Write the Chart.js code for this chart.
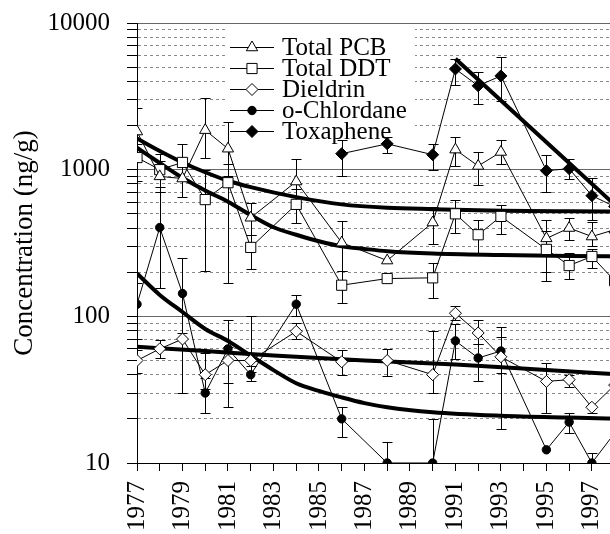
<!DOCTYPE html>
<html>
<head>
<meta charset="utf-8">
<script src="https://cdn.jsdelivr.net/npm/chart.js@4.4.1/dist/chart.umd.min.js"></script>
<style>
  html, body { margin: 0; padding: 0; background: #fff; overflow: hidden; }
  canvas { display: block; }
</style>
</head>
<body>
<canvas id="chart" width="626" height="534"></canvas>
<script>
// sampling years shared by PCB, DDT, Dieldrin and o-Chlordane
const sampleYears = [1977, 1978, 1979, 1980, 1981, 1982, 1984, 1986, 1988, 1990, 1991, 1992, 1993, 1995, 1996, 1997, 1998];

const pcb     = [1820, 900, 870, 1860, 1390, 470, 830, 318, 240, 436, 1370, 1060, 1320, 340, 400, 350, 390];
const pcbLow  = [1300, 700, 650, 1200, 900, 360, 560, 205, null, 310, 1060, 790, 1100, 200, 330, 300, 320];
const pcbHigh = [2640, 1150, 1100, 3080, 2120, 590, 1180, 445, null, 560, 1670, 1330, 1600, 455, 470, 440, 470];

const ddt     = [1210, 1000, 1120, 625, 815, 295, 580, 163, 181, 183, 500, 360, 480, 286, 222, 256, 175];
const ddtLow  = [840, 760, 850, 205, 170, 210, 430, 123, null, 133, 370, 270, 365, 175, 180, 215, 135];
const ddtHigh = [1500, 1280, 1500, 1000, 1100, 360, 740, 205, null, 230, 625, 455, 575, 380, 270, 290, 230];

const dieldrin     = [50, 60, 70, 40, 50, 50, 79, 49, 50, 40, 105, 77, 53, 36, 37, 24, 34];
const dieldrinLow  = [41, 52, null, 32, 35, 42, 70, 40, 39, 30, 95, 65, 41, 22, 33, 22, null];
const dieldrinHigh = [59, 69, 77, 56, 62, 100, 90, 59, 60, 79, 118, 95, 72, 48, 40, null, null];

const chlordane     = [121, 403, 143, 30, 60, 40, 121, 20, 10, 10, 68, 52, 58, 12.3, 19, 10, 16];
const chlordaneLow  = [70, 157, 30, 22, 24, 36, 100, 15, null, null, 51, 36, 17, null, 16, null, null];
const chlordaneHigh = [170, 700, 250, 38, 95, 46, 140, 24, 14, 20, 88, 65, 85, null, 22, 11.7, null];

const toxYears   = [1986, 1988, 1990, 1991, 1992, 1993, 1995, 1996, 1997, 1998];
const toxaphene  = [1285, 1500, 1265, 4860, 3730, 4360, 985, 1015, 665, 560];
const toxLow     = [900, 1300, 1000, 3800, 2800, 2950, 700, 870, 455, null];
const toxHigh    = [1600, 1670, 1500, 5700, 4650, 5850, 1250, 1180, 880, null];

// fitted trend curves
const pcbTrendYears = [1977, 1978, 1979, 1980, 1981, 1982, 1984, 1986, 1988, 1990, 1993, 1996, 1998.5];
const pcbTrend      = [1630, 1340, 1120, 960, 840, 760, 650, 580, 550, 538, 525, 520, 518];
const ddtTrendYears = [1977, 1978, 1979, 1980, 1981, 1982, 1983, 1984, 1985, 1986, 1987, 1988, 1990, 1993, 1996, 1998.5];
const ddtTrend      = [1410, 1110, 880, 720, 605, 490, 405, 360, 325, 300, 288, 278, 268, 262, 258, 256];
const dieldrinTrendYears = [1977, 1980, 1983, 1987, 1991, 1995, 1998.5];
const dieldrinTrend      = [62, 58, 54, 50, 47, 43, 40];
const chlordaneTrendYears = [1977, 1978, 1979, 1980, 1981, 1982, 1983, 1984, 1985, 1986, 1987, 1988, 1990, 1993, 1996, 1998.5];
const chlordaneTrend      = [196, 140, 107, 82, 68, 54, 43, 35, 31, 28, 25.6, 24, 22.2, 21, 20.4, 20];
const toxTrendYears = [1991, 1998.5];
const toxTrend      = [5700, 490];

// axes
const xTickLabels = ['1977', '1979', '1981', '1983', '1985', '1987', '1989', '1991', '1993', '1995', '1997'];
const yTickLabels = ['10', '100', '1000', '10000'];

const pts = (xs, ys) => xs.map((x, i) => ({ x: x, y: ys[i] }));

const yGrid = [];
[10, 100, 1000].forEach(d => { for (let k = 1; k < 10; k++) yGrid.push(d * k); });
yGrid.push(10000);
const isMajor = v => yTickLabels.includes(String(v));

const serif = '"Liberation Serif", "Times New Roman", serif';
Chart.defaults.font.family = serif;
Chart.defaults.color = '#000';

function series(label, data, style, radius, fill, lo, hi) {
  return {
    label: label, data: data, errLow: lo, errHigh: hi, inLegend: true,
    borderColor: '#000', borderWidth: 1,
    pointStyle: style, pointRadius: radius, pointHoverRadius: radius,
    pointBackgroundColor: fill, pointBorderColor: '#000', pointBorderWidth: 1,
    tension: 0
  };
}
function trend(data) {
  return {
    data: data, borderColor: '#000', borderWidth: 4, pointRadius: 0,
    cubicInterpolationMode: 'monotone'
  };
}

const errorBars = {
  id: 'errorBars',
  beforeDatasetsDraw(chart) {
    const { ctx, chartArea: a, scales: { x, y } } = chart;
    ctx.save();
    ctx.beginPath();
    ctx.rect(a.left, a.top, a.right - a.left, a.bottom - a.top);
    ctx.clip();
    ctx.strokeStyle = '#000';
    ctx.lineWidth = 1;
    chart.data.datasets.forEach(ds => {
      if (!ds.errLow) return;
      ds.data.forEach((p, i) => {
        const lo = ds.errLow[i], hi = ds.errHigh[i];
        if (lo == null && hi == null) return;
        const px = Math.round(x.getPixelForValue(p.x)) + 0.5;
        const yLo = Math.round(y.getPixelForValue(lo == null ? p.y : lo)) + 0.5;
        const yHi = Math.round(y.getPixelForValue(hi == null ? p.y : hi)) + 0.5;
        ctx.beginPath();
        ctx.moveTo(px, yLo);
        ctx.lineTo(px, yHi);
        if (lo != null) { ctx.moveTo(px - 5, yLo); ctx.lineTo(px + 5, yLo); }
        if (hi != null) { ctx.moveTo(px - 5, yHi); ctx.lineTo(px + 5, yHi); }
        ctx.stroke();
      });
    });
    ctx.restore();
  }
};

const boxLegend = {
  id: 'boxLegend',
  beforeDatasetsDraw(chart) {
    const ctx = chart.ctx;
    ctx.save();
    ctx.fillStyle = '#fff';
    ctx.fillRect(225, 25, 190, 118);
    let rowY = 47;
    chart.data.datasets.filter(d => d.inLegend).forEach(ds => {
      ctx.strokeStyle = '#000';
      ctx.lineWidth = 1;
      ctx.beginPath();
      ctx.moveTo(230, rowY + 0.5);
      ctx.lineTo(274, rowY + 0.5);
      ctx.stroke();
      ctx.fillStyle = ds.pointBackgroundColor;
      Chart.helpers.drawPoint(ctx, { pointStyle: ds.pointStyle, radius: ds.pointRadius, rotation: 0, borderWidth: 1 }, 252, rowY + 0.5);
      ctx.fillStyle = '#000';
      ctx.font = '25px ' + serif;
      ctx.textBaseline = 'middle';
      ctx.textAlign = 'left';
      ctx.fillText(ds.label, 282, rowY + 1);
      rowY += 21;
    });
    ctx.restore();
  }
};

new Chart(document.getElementById('chart'), {
  type: 'line',
  data: {
    datasets: [
      series('Total PCB', pts(sampleYears, pcb), 'triangle', 6.5, '#fff', pcbLow, pcbHigh),
      series('Total DDT', pts(sampleYears, ddt), 'rect', 7.2, '#fff', ddtLow, ddtHigh),
      series('Dieldrin', pts(sampleYears, dieldrin), 'rectRot', 6, '#fff', dieldrinLow, dieldrinHigh),
      series('o-Chlordane', pts(sampleYears, chlordane), 'circle', 4.2, '#000', chlordaneLow, chlordaneHigh),
      series('Toxaphene', pts(toxYears, toxaphene), 'rectRot', 6, '#000', toxLow, toxHigh),
      trend(pts(pcbTrendYears, pcbTrend)),
      trend(pts(ddtTrendYears, ddtTrend)),
      trend(pts(dieldrinTrendYears, dieldrinTrend)),
      trend(pts(chlordaneTrendYears, chlordaneTrend)),
      trend(pts(toxTrendYears, toxTrend))
    ]
  },
  options: {
    responsive: false,
    animation: false,
    devicePixelRatio: 1,
    layout: { autoPadding: false, padding: { top: 23, right: 0, bottom: 0, left: 0 } },
    plugins: { legend: { display: false }, tooltip: { enabled: false } },
    scales: {
      x: {
        type: 'linear',
        min: 1977,
        max: 1998.5,
        afterBuildTicks: s => { s.ticks = []; for (let yr = 1977; yr <= 1998; yr++) s.ticks.push({ value: yr }); },
        afterFit: s => { s.height = 71; s.paddingLeft = 0; s.paddingRight = 0; },
        grid: { drawOnChartArea: false, tickLength: 8, tickColor: '#000' },
        border: { color: '#000', width: 1 },
        ticks: {
          autoSkip: false, minRotation: 90, maxRotation: 90, padding: 10,
          font: { size: 25, family: serif },
          callback: v => xTickLabels.includes(String(v)) ? String(v) : ''
        }
      },
      y: {
        type: 'logarithmic',
        min: 10,
        max: 10000,
        afterBuildTicks: s => { s.ticks = yGrid.map(v => ({ value: v })); },
        afterFit: s => { s.width = 137; s.paddingTop = 0; s.paddingBottom = 0; },
        grid: {
          color: c => (c.tick && isMajor(c.tick.value)) ? '#666' : '#8a8a8a',
          lineWidth: 1, tickLength: 10, tickColor: '#000'
        },
        border: {
          color: '#000', width: 1,
          dash: c => (c.tick && !isMajor(c.tick.value)) ? [3, 3] : []
        },
        ticks: {
          autoSkip: false, padding: 17,
          font: { size: 25, family: serif },
          callback: v => isMajor(v) ? String(v) : ''
        },
        title: { display: true, text: 'Concentration (ng/g)', font: { size: 27, family: serif }, padding: { top: 9, bottom: 0 } }
      }
    }
  },
  plugins: [boxLegend, errorBars]
});
</script>
</body>
</html>
